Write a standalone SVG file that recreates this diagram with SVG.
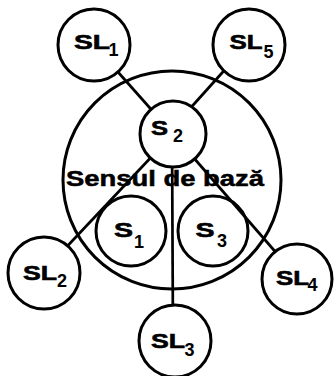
<svg xmlns="http://www.w3.org/2000/svg" width="334" height="376" viewBox="0 0 334 376">
<style>
.c{fill:#fff;stroke:#000;stroke-width:3}
.m{font-family:"Liberation Sans",Arial,sans-serif;font-weight:bold;font-size:20px;fill:#000;text-anchor:middle;stroke:#000;stroke-width:0.6}
.d{font-family:"Liberation Sans",Arial,sans-serif;font-weight:bold;font-size:18px;fill:#000;text-anchor:middle}
.t{font-family:"Liberation Sans",Arial,sans-serif;font-weight:bold;font-size:22px;fill:#000;text-anchor:middle;stroke:#000;stroke-width:0.5}
#connectors line{stroke:#000;stroke-width:2.7;fill:none}
</style>
<rect width="334" height="376" fill="#fff"/>
<g id="base">
<circle class="c" cx="172" cy="180" r="109"/>
<text class="t" x="165" y="186" textLength="198" lengthAdjust="spacingAndGlyphs">Sensul de bază</text>
</g>
<g id="S1">
<circle class="c" cx="131" cy="231" r="35"/>
<text class="m" x="123.5" y="237" textLength="19" lengthAdjust="spacingAndGlyphs">S</text>
<text class="d" x="139" y="248">1</text>
</g>
<g id="S3">
<circle class="c" cx="213" cy="231" r="35"/>
<text class="m" x="205" y="237" textLength="19" lengthAdjust="spacingAndGlyphs">S</text>
<text class="d" x="222" y="247">3</text>
</g>
<g id="connectors">
<line x1="94" y1="45" x2="173" y2="134"/>
<line x1="248" y1="44" x2="168" y2="133"/>
<line x1="173" y1="134" x2="42" y2="273"/>
<line x1="173" y1="134" x2="299" y2="279"/>
<line x1="172" y1="134" x2="173" y2="341"/>
</g>
<g id="S2">
<circle class="c" cx="173" cy="134" r="33"/>
<text class="m" x="159.5" y="135" textLength="17" lengthAdjust="spacingAndGlyphs">S</text>
<text class="d" x="178" y="142">2</text>
</g>
<g id="SL1">
<circle class="c" cx="94" cy="45" r="36"/>
<text class="m" x="92" y="49" textLength="36" lengthAdjust="spacingAndGlyphs">SL</text>
<text class="d" x="113.5" y="56">1</text>
</g>
<g id="SL5">
<circle class="c" cx="249" cy="45" r="36"/>
<text class="m" x="246" y="49" textLength="33" lengthAdjust="spacingAndGlyphs">SL</text>
<text class="d" x="268.5" y="58">5</text>
</g>
<g id="SL2">
<circle class="c" cx="44" cy="273" r="36"/>
<text class="m" x="40" y="280" textLength="34" lengthAdjust="spacingAndGlyphs">SL</text>
<text class="d" x="62" y="287">2</text>
</g>
<g id="SL4">
<circle class="c" cx="297" cy="279" r="35"/>
<text class="m" x="292.5" y="285" textLength="33" lengthAdjust="spacingAndGlyphs">SL</text>
<text class="d" x="312.5" y="291">4</text>
</g>
<g id="SL3">
<circle class="c" cx="175" cy="341" r="36"/>
<text class="m" x="168" y="348" textLength="34" lengthAdjust="spacingAndGlyphs">SL</text>
<text class="d" x="189.5" y="356">3</text>
</g>
</svg>
